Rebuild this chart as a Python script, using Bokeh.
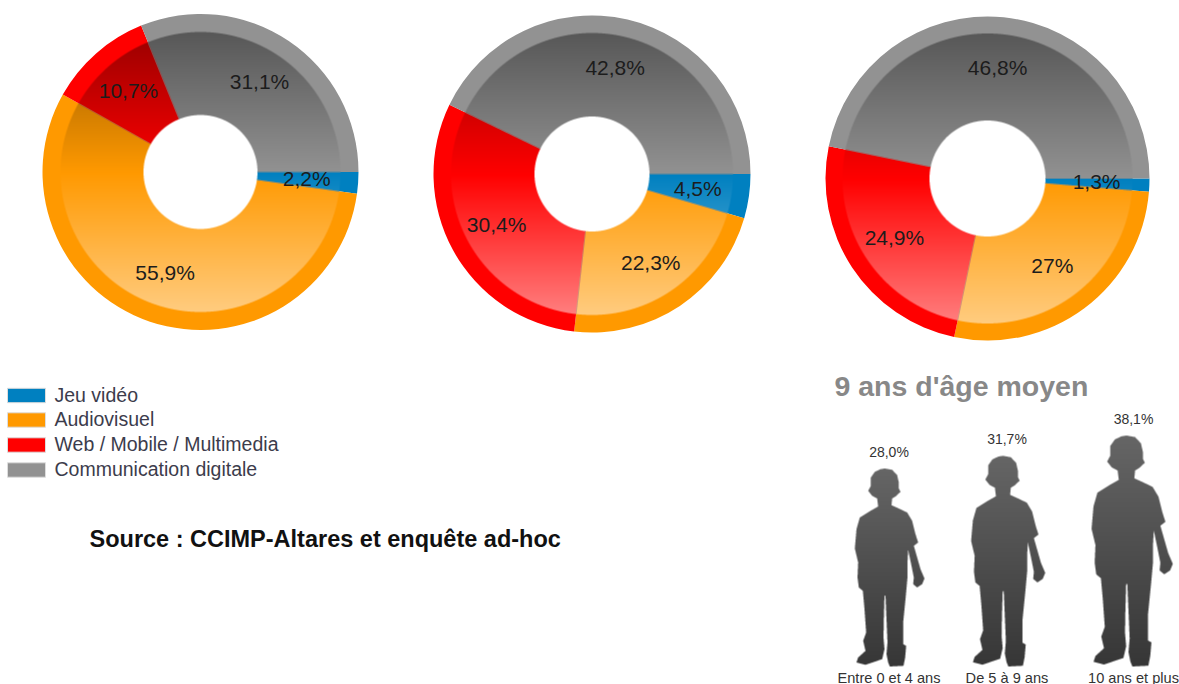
import numpy as np
from bokeh.plotting import figure
from bokeh.core.properties import value
from bokeh.embed import file_html
from bokeh.resources import INLINE

# ---- data ----
categories = ["Jeu vidéo", "Audiovisuel", "Web / Mobile / Multimedia", "Communication digitale"]
colors = ["#0080c0", "#ff9900", "#ff0000", "#929292"]
pie1_values = [2.2, 55.9, 10.7, 31.1]
pie1_labels = ["2,2%", "55,9%", "10,7%", "31,1%"]
pie2_values = [4.5, 22.3, 30.4, 42.8]
pie2_labels = ["4,5%", "22,3%", "30,4%", "42,8%"]
pie3_values = [1.3, 27.0, 24.9, 46.8]
pie3_labels = ["1,3%", "27%", "24,9%", "46,8%"]
age_groups = ["Entre 0 et 4 ans", "De 5 à 9 ans", "10 ans et plus"]
age_values = [28.0, 31.7, 38.1]
age_labels = ["28,0%", "31,7%", "38,1%"]
title_text = "9 ans d'âge moyen"
source_text = "Source : CCIMP-Altares et enquête ad-hoc"

W, H = 1179, 684
FONT = value("Liberation Sans")


def Y(py):
    return H - py


p = figure(width=W, height=H, x_range=(0, W), y_range=(0, H), toolbar_location=None,
           output_backend="svg", min_border=0, outline_line_color=None)
p.axis.visible = False
p.grid.visible = False


def rgb(c):
    return np.array([int(c[i:i + 2], 16) for i in (1, 3, 5)], float)


def donut(vals, labels, cx, cy, R, rim, hole):
    frac = np.array(vals, float) / sum(vals)
    ends = np.cumsum(frac) * 2 * np.pi
    starts = ends - frac * 2 * np.pi
    # flat outer rim
    p.annular_wedge(x=[cx] * 4, y=[Y(cy)] * 4, inner_radius=rim - 2, outer_radius=R,
                    start_angle=list(-starts), end_angle=list(-ends), direction="clock",
                    fill_color=colors, line_color=None)
    # shaded inner ring, rasterised from the same fractions
    x0, y0 = int(cx - rim - 2), int(cy - rim - 2)
    n = int(2 * rim + 5)
    ss = 4
    c = (np.arange(n * ss) + .5) / ss
    xx, yy = np.meshgrid(x0 + c, y0 + c)
    dx, dy = xx - cx, yy - cy
    r = np.hypot(dx, dy)
    ang = np.mod(np.arctan2(dy, dx), 2 * np.pi)
    idx = np.clip(np.searchsorted(ends, ang), 0, 3)
    base = np.array([rgb(c_) for c_ in colors])[idx]
    t = dy / rim
    dark = np.clip(1 + 0.4 * np.minimum(t, 0), 0, 1)[..., None]
    light = (0.5 * np.clip(t, 0, 1))[..., None]
    col = base * dark * (1 - light) + 255 * light
    a = ((r <= rim) & (r >= hole)).astype(float)
    pm = (col * a[..., None]).reshape(n, ss, n, ss, 3).mean(axis=(1, 3))
    al = a.reshape(n, ss, n, ss).mean(axis=(1, 3))
    out = np.zeros((n, n), dtype=np.uint32)
    view = out.view(np.uint8).reshape(n, n, 4)
    safe = np.maximum(al, 1e-6)[..., None]
    view[..., :3] = np.clip(pm / safe, 0, 255).astype(np.uint8)
    view[..., 3] = (al * 255).astype(np.uint8)
    p.image_rgba(image=[out[::-1]], x=x0, y=Y(y0 + n), dw=n, dh=n)
    # thin separators
    p.segment(x0=list(cx + hole * np.cos(ends)), y0=list(Y(cy + hole * np.sin(ends))),
              x1=list(cx + rim * np.cos(ends)), y1=list(Y(cy + rim * np.sin(ends))),
              line_color="#888888", line_width=0.8, line_alpha=0.45)
    # labels
    mids = (starts + ends) / 2
    lr = 0.68 * R
    p.text(x=list(cx - 1 + lr * np.cos(mids)), y=list(Y(cy - 1 + lr * np.sin(mids))), text=labels,
           text_font=FONT, text_font_size="21px", text_color="#1c1c1c",
           text_align="center", text_baseline="middle")


donut(pie1_values, pie1_labels, 200, 171.5, 158, 140, 57)
donut(pie2_values, pie2_labels, 591.5, 173.5, 158.5, 141, 57.5)
donut(pie3_values, pie3_labels, 987, 178, 162, 145, 58)

# ---- legend ----
ly = [395, 419.5, 444.5, 469.5]
p.quad(left=[7] * 4, right=[45] * 4, top=[Y(v - 7.2) for v in ly], bottom=[Y(v + 7.2) for v in ly],
       fill_color=colors, line_color="#dddddd", line_width=1)
p.text(x=[54] * 4, y=[Y(v - 1) for v in ly], text=categories, text_font=FONT, text_font_size="19.5px",
       text_color="#3c3c4c", text_align="left", text_baseline="middle")

p.text(x=[89], y=[Y(538.5)], text=[source_text], text_font=FONT, text_font_size="23.5px",
       text_font_style="bold", text_color="#111111", text_align="left", text_baseline="middle")
p.text(x=[834], y=[Y(385.5)], text=[title_text], text_font=FONT, text_font_size="28.5px",
       text_font_style="bold", text_color="#888888", text_align="left", text_baseline="middle")

# ---- silhouettes: area proportional to the value ----
outline = np.array([(118,18),(140,22),(155,38),(160,60),(160,78),(165,88),(150,102),(140,108),(138,128),
    (160,138),(185,150),(200,175),(210,215),(218,240),(205,250),(215,285),(225,320),(237,348),(230,365),
    (215,375),(203,365),(205,345),(198,310),(188,262),(186,300),(186,345),(181,400),(173,480),(173,545),
    (182,550),(179,585),(174,610),(133,612),(128,600),(123,575),(126,540),(123,470),(120,400),(117,400),
    (115,470),(114,525),(117,560),(110,590),(60,607),(33,600),(38,585),(60,565),(53,535),(62,510),(57,440),
    (52,385),(40,375),(36,345),(38,300),(28,258),(33,200),(43,165),(75,145),(98,132),(95,108),(80,100),
    (68,85),(76,70),(76,45),(88,28),(105,20)], float)
outline = (outline - [132, 612]) / 3
centers = [889, 1007.5, 1131.5]
label_centers = [888.5, 1006.5, 1133]
foot = 666


def inside(px, py, poly):
    res = np.zeros(px.shape, bool)
    xa, ya = poly[:, 0], poly[:, 1]
    xb, yb = np.roll(xa, -1), np.roll(ya, -1)
    for a, b, c, d in zip(xa, ya, xb, yb):
        if b == d:
            continue
        cond = (b > py) != (d > py)
        res ^= cond & (px < a + (py - b) * (c - a) / (d - b))
    return res


heads = []
for cxk, v in zip(centers, age_values):
    s = np.sqrt(v / age_values[0])
    poly = outline * s + [cxk, foot]
    x0, x1 = int(poly[:, 0].min()) - 1, int(poly[:, 0].max()) + 2
    y0, y1 = int(poly[:, 1].min()) - 1, int(poly[:, 1].max()) + 2
    nx, ny, ss = x1 - x0, y1 - y0, 4
    xx, yy = np.meshgrid(x0 + (np.arange(nx * ss) + .5) / ss, y0 + (np.arange(ny * ss) + .5) / ss)
    al = inside(xx, yy, poly).astype(float).reshape(ny, ss, nx, ss).mean(axis=(1, 3))
    g = np.linspace(0x66, 0x36, ny)[:, None] * np.ones((ny, nx))
    out = np.zeros((ny, nx), dtype=np.uint32)
    view = out.view(np.uint8).reshape(ny, nx, 4)
    view[..., 0] = view[..., 1] = view[..., 2] = g.astype(np.uint8)
    view[..., 3] = (al * 255).astype(np.uint8)
    p.image_rgba(image=[out[::-1]], x=x0, y=Y(y1), dw=nx, dh=ny)
    heads.append(poly[:, 1].min())

p.text(x=label_centers, y=[Y(h - 17) for h in heads], text=age_labels, text_font=FONT,
       text_font_size="14px", text_color="#333333", text_align="center", text_baseline="middle")
p.text(x=label_centers, y=[Y(677)] * 3, text=age_groups, text_font=FONT, text_font_size="14.6px",
       text_color="#333333", text_align="center", text_baseline="middle")

p.styles = {"position": "absolute", "left": "0px", "top": "0px"}
open("out.html", "w").write(file_html(p, INLINE))
